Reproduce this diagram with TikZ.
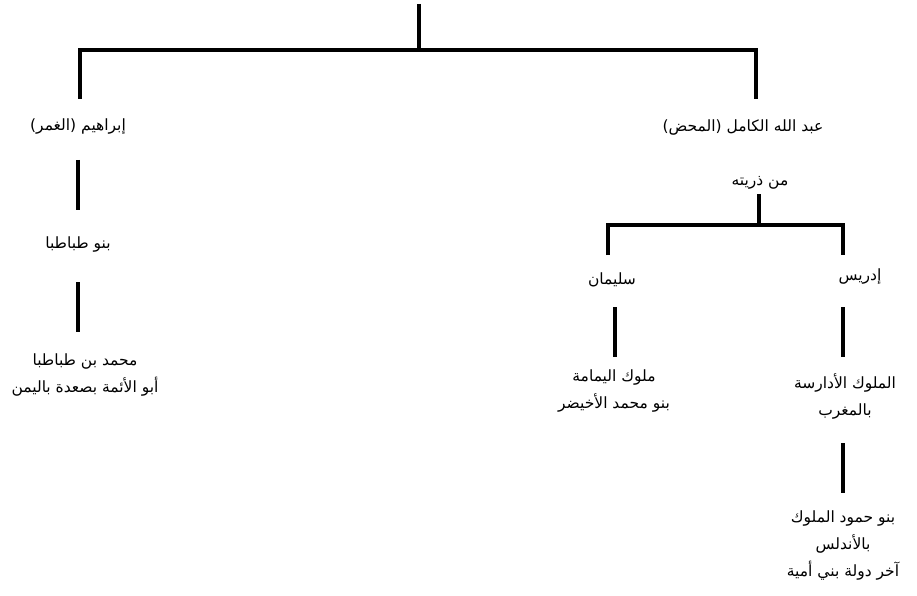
\documentclass[tikz,border=0pt]{standalone}
\usepackage{fontspec}
\newfontfamily\arabicfont[Script=Arabic]{DejaVu Sans}
\TeXXeTstate=1
\usetikzlibrary{positioning}
\tikzset{%
  branch/.style = {line width=3.5pt},
  kin/.style = {font=\arabicfont\fontsize{15.5}{27}\selectfont,
        align=center, inner sep=1pt}
}
\newcommand{\rl}[1]{\beginR #1\endR}

\begin{document}
\begin{tikzpicture}[x=1pt,y=-1pt]
  \useasboundingbox (0,0) rectangle (917,596);
  % top level
  \coordinate (root) at (419,4);
  \coordinate (j0) at (419,50);
  \coordinate (l0) at (80,99);
  \coordinate (r0) at (756,99);
  \draw[branch] (root) -- (j0);
  \draw[branch] (l0) -- (80,50) -- (756,50) -- (r0);

  % left branch
  \node[kin] (ibr) at (78,127) {\rl{إبراهيم (الغمر)}};
  \node[kin] (tab) at (78,245) {\rl{بنو طباطبا}};
  \node[kin] (mhd) at (85,375) {\rl{محمد بن طباطبا}\\ \rl{أبو الأئمة بصعدة باليمن}};
  \coordinate (ibr-b) at (78,160);
  \coordinate (tab-t) at (78,210);
  \coordinate (tab-b) at (78,282);
  \coordinate (mhd-t) at (78,332);
  \draw[branch] (ibr-b) -- (tab-t);
  \draw[branch] (tab-b) -- (mhd-t);

  % right branch
  \node[kin] (abd) at (743,128) {\rl{عبد الله الكامل (المحض)}};
  \node[kin] (dhr) at (760,183) {\rl{من ذريته}};
  \coordinate (dhr-b) at (759,194);
  \coordinate (j1) at (759,225);
  \coordinate (sul-t) at (608,255);
  \coordinate (idr-t) at (843,255);
  \draw[branch] (dhr-b) -- (j1);
  \draw[branch] (sul-t) -- (608,225) -- (843,225) -- (idr-t);

  \node[kin] (sul) at (612,280) {\rl{سليمان}};
  \node[kin] (idr) at (860,277) {\rl{إدريس}};
  \node[kin] (yam) at (614,391) {\rl{ملوك اليمامة}\\ \rl{بنو محمد الأخيضر}};
  \node[kin] (adr) at (845,396) {\rl{الملوك الأدارسة}\\ \rl{بالمغرب}};
  \node[kin] (ham) at (843,545) {\rl{بنو حمود الملوك}\\ \rl{بالأندلس}\\ \rl{آخر دولة بني أمية}};
  \coordinate (sul-b) at (615,307);
  \coordinate (yam-t) at (615,357);
  \coordinate (idr-b) at (843,307);
  \coordinate (adr-t) at (843,357);
  \coordinate (adr-b) at (843,443);
  \coordinate (ham-t) at (843,493);
  \draw[branch] (sul-b) -- (yam-t);
  \draw[branch] (idr-b) -- (adr-t);
  \draw[branch] (adr-b) -- (ham-t);
\end{tikzpicture}
\end{document}
